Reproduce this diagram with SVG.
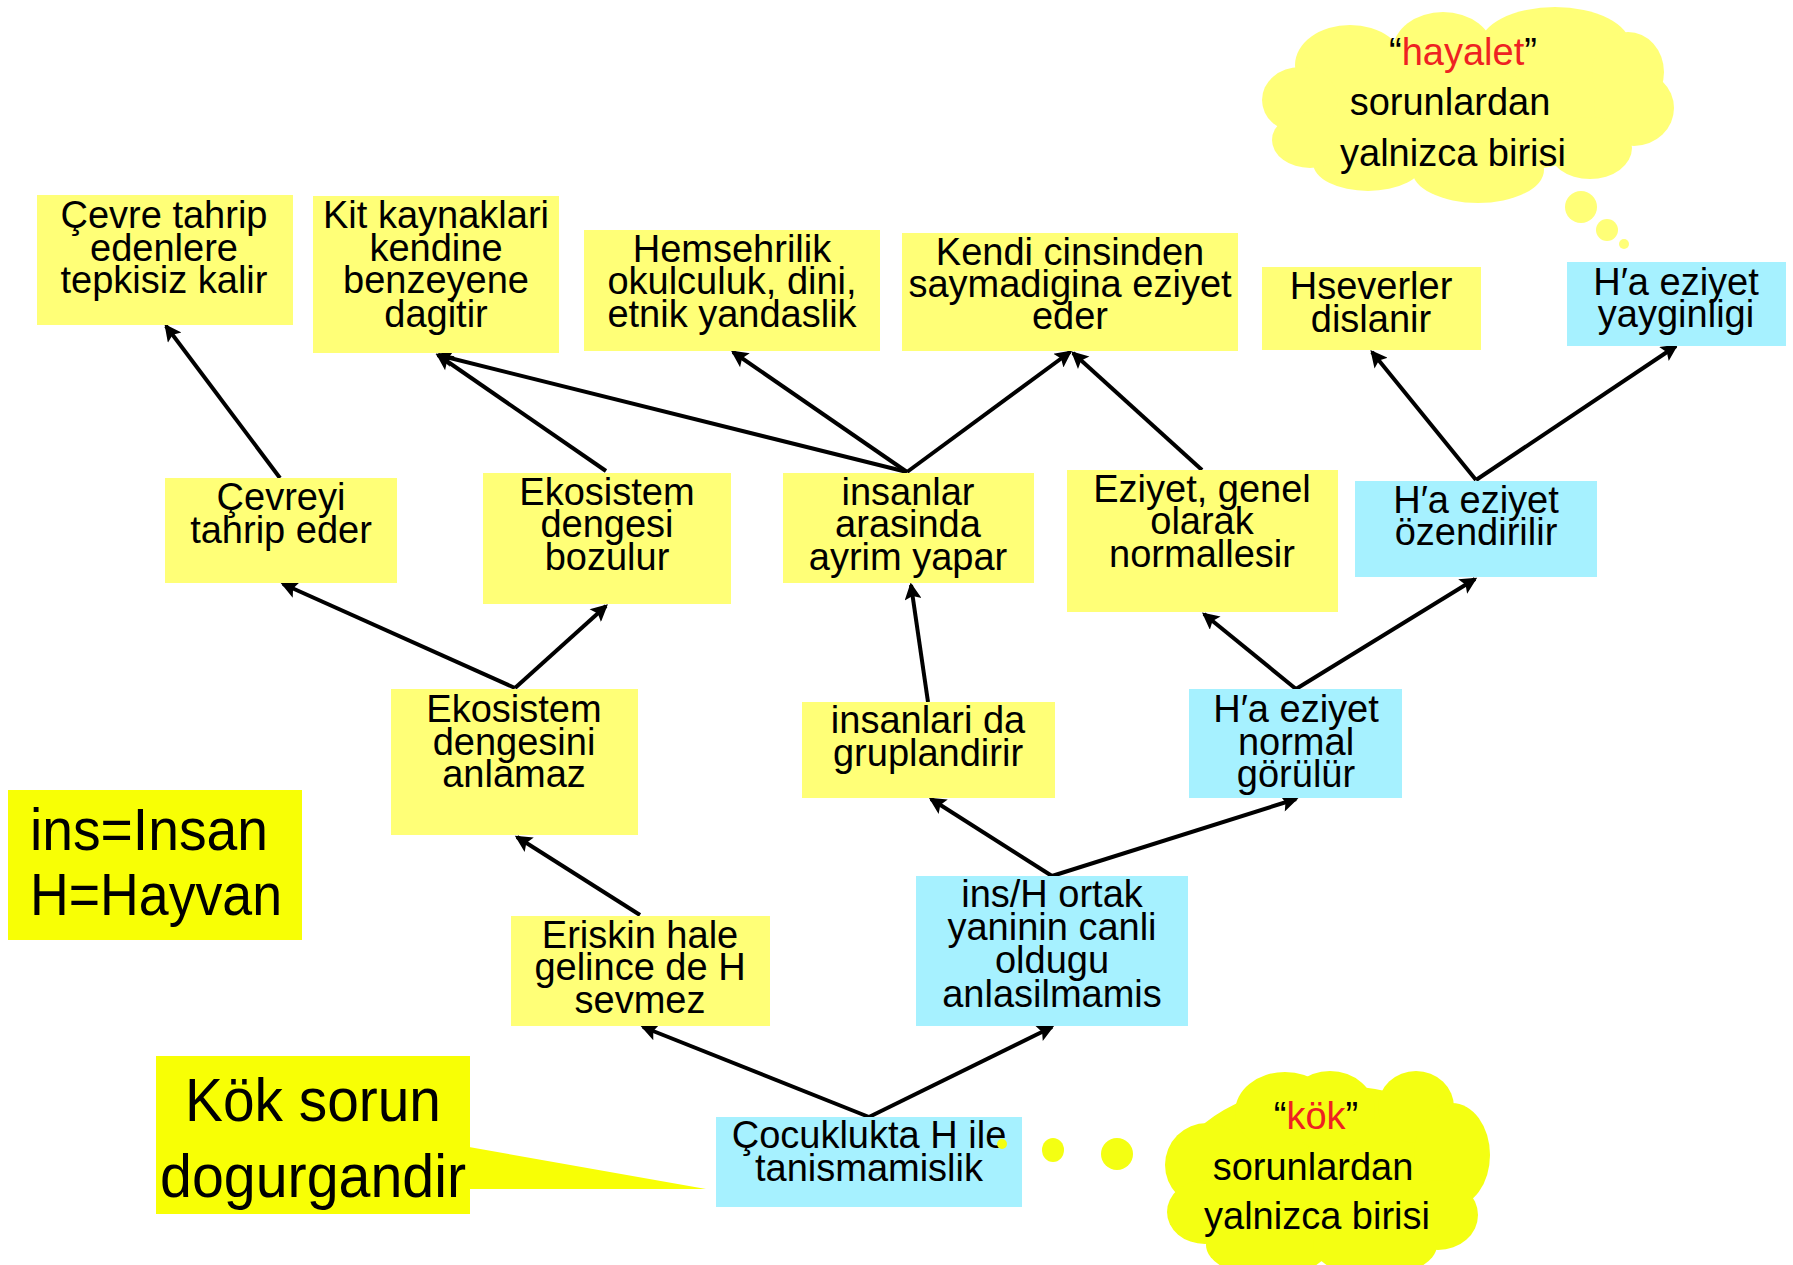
<svg xmlns="http://www.w3.org/2000/svg" width="1793" height="1265" viewBox="0 0 1793 1265">
  <style>
    .y { fill: #FFFF77; }
    .c { fill: #A6F1FF; }
    .hy { fill: #F8FF05; }
    .t { font-family: "Liberation Sans", Arial, sans-serif; font-size: 38px; text-anchor: middle; fill: #000; }
    .big { font-family: "Liberation Sans", Arial, sans-serif; fill: #000; }
    .red { fill: #EE2222; }
    .edge { stroke: #000; stroke-width: 4; fill: none; marker-end: url(#arr); }
  </style>
  <defs>
    <marker id="arr" viewBox="0 0 10 10" refX="8.5" refY="5" markerUnits="userSpaceOnUse" markerWidth="21" markerHeight="17" orient="auto">
      <path d="M0,0 L10,5 L0,10 L2,5 z" fill="#000"/>
    </marker>
  </defs>
  <rect width="1793" height="1265" fill="#fff"/>

  <!-- thought cloud, top right -->
  <g id="cloud-hayalet">
    <g fill="#FFFF77">
      <ellipse cx="1465" cy="105" rx="180" ry="70"/>
      <ellipse cx="1350" cy="65" rx="55" ry="40"/>
      <ellipse cx="1443" cy="50" rx="50" ry="38"/>
      <ellipse cx="1555" cy="45" rx="75" ry="38"/>
      <ellipse cx="1628" cy="72" rx="36" ry="40"/>
      <ellipse cx="1634" cy="108" rx="40" ry="38"/>
      <ellipse cx="1590" cy="148" rx="42" ry="31"/>
      <ellipse cx="1478" cy="170" rx="66" ry="33"/>
      <ellipse cx="1368" cy="163" rx="55" ry="28"/>
      <ellipse cx="1300" cy="100" rx="38" ry="33"/>
      <ellipse cx="1310" cy="140" rx="38" ry="28"/>
      <circle cx="1581" cy="207" r="16"/>
      <circle cx="1607" cy="230" r="11"/>
      <circle cx="1624" cy="244" r="5"/>
    </g>
    <text class="t" x="1463" y="65">“<tspan class="red">hayalet</tspan>”</text>
    <text class="t" x="1450" y="115">sorunlardan</text>
    <text class="t" x="1453" y="166">yalnizca birisi</text>
  </g>

  <!-- connectors -->
  <g id="connectors">
    <line class="edge" x1="280" y1="478" x2="166" y2="326"/>
    <line class="edge" x1="515" y1="688" x2="283" y2="584"/>
    <line class="edge" x1="515" y1="688" x2="606" y2="606"/>
    <line class="edge" x1="606" y1="471" x2="438" y2="355"/>
    <line class="edge" x1="907" y1="472" x2="438" y2="355"/>
    <line class="edge" x1="907" y1="472" x2="733" y2="352"/>
    <line class="edge" x1="907" y1="472" x2="1070" y2="352"/>
    <line class="edge" x1="1202" y1="470" x2="1073" y2="353"/>
    <line class="edge" x1="928" y1="702" x2="911" y2="585"/>
    <line class="edge" x1="1052" y1="876" x2="931" y2="799"/>
    <line class="edge" x1="1052" y1="876" x2="1296" y2="799"/>
    <line class="edge" x1="1296" y1="689" x2="1204" y2="614"/>
    <line class="edge" x1="1296" y1="689" x2="1475" y2="579"/>
    <line class="edge" x1="1476" y1="480" x2="1372" y2="352"/>
    <line class="edge" x1="1476" y1="480" x2="1676" y2="346"/>
    <line class="edge" x1="869" y1="1117" x2="643" y2="1027"/>
    <line class="edge" x1="869" y1="1117" x2="1052" y2="1027"/>
    <line class="edge" x1="640" y1="915" x2="517" y2="837"/>
  </g>

  <g id="n-cevre-tepkisiz">
    <rect class="y" x="37" y="195" width="256" height="130"/>
    <text class="t" x="164" y="228">Çevre tahrip</text>
    <text class="t" x="164" y="261">edenlere</text>
    <text class="t" x="164" y="293">tepkisiz kalir</text>
  </g>
  <g id="n-kit-kaynak">
    <rect class="y" x="313" y="196" width="246" height="157"/>
    <text class="t" x="436" y="228">Kit kaynaklari</text>
    <text class="t" x="436" y="261">kendine</text>
    <text class="t" x="436" y="293">benzeyene</text>
    <text class="t" x="436" y="327">dagitir</text>
  </g>
  <g id="n-hemsehrilik">
    <rect class="y" x="584" y="230" width="296" height="121"/>
    <text class="t" x="732" y="262">Hemsehrilik</text>
    <text class="t" x="732" y="294">okulculuk, dini,</text>
    <text class="t" x="732" y="327">etnik yandaslik</text>
  </g>
  <g id="n-kendi-cinsinden">
    <rect class="y" x="902" y="233" width="336" height="118"/>
    <text class="t" x="1070" y="265">Kendi cinsinden</text>
    <text class="t" x="1070" y="297">saymadigina eziyet</text>
    <text class="t" x="1070" y="329">eder</text>
  </g>
  <g id="n-hseverler">
    <rect class="y" x="1262" y="267" width="219" height="83"/>
    <text class="t" x="1371" y="299">Hseverler</text>
    <text class="t" x="1371" y="332">dislanir</text>
  </g>
  <g id="n-yayginligi">
    <rect class="c" x="1567" y="262" width="219" height="84"/>
    <text class="t" x="1676" y="295">H′a eziyet</text>
    <text class="t" x="1676" y="327">yayginligi</text>
  </g>
  <g id="n-cevreyi">
    <rect class="y" x="165" y="478" width="232" height="105"/>
    <text class="t" x="281" y="510">Çevreyi</text>
    <text class="t" x="281" y="543">tahrip eder</text>
  </g>
  <g id="n-ekosistem-bozulur">
    <rect class="y" x="483" y="473" width="248" height="131"/>
    <text class="t" x="607" y="505">Ekosistem</text>
    <text class="t" x="607" y="537">dengesi</text>
    <text class="t" x="607" y="570">bozulur</text>
  </g>
  <g id="n-ayrim">
    <rect class="y" x="783" y="473" width="251" height="110"/>
    <text class="t" x="908" y="505">insanlar</text>
    <text class="t" x="908" y="537">arasinda</text>
    <text class="t" x="908" y="570">ayrim yapar</text>
  </g>
  <g id="n-normallesir">
    <rect class="y" x="1067" y="470" width="271" height="142"/>
    <text class="t" x="1202" y="502">Eziyet, genel</text>
    <text class="t" x="1202" y="534">olarak</text>
    <text class="t" x="1202" y="567">normallesir</text>
  </g>
  <g id="n-ozendirilir">
    <rect class="c" x="1355" y="481" width="242" height="96"/>
    <text class="t" x="1476" y="513">H′a eziyet</text>
    <text class="t" x="1476" y="545">özendirilir</text>
  </g>
  <g id="n-ekosistem-anlamaz">
    <rect class="y" x="391" y="689" width="247" height="146"/>
    <text class="t" x="514" y="722">Ekosistem</text>
    <text class="t" x="514" y="755">dengesini</text>
    <text class="t" x="514" y="787">anlamaz</text>
  </g>
  <g id="n-gruplandirir">
    <rect class="y" x="802" y="702" width="253" height="96"/>
    <text class="t" x="928" y="733">insanlari da</text>
    <text class="t" x="928" y="766">gruplandirir</text>
  </g>
  <g id="n-normal-gorulur">
    <rect class="c" x="1189" y="689" width="213" height="109"/>
    <text class="t" x="1296" y="722">H′a eziyet</text>
    <text class="t" x="1296" y="755">normal</text>
    <text class="t" x="1296" y="787">görülür</text>
  </g>
  <g id="n-ortak-yan">
    <rect class="c" x="916" y="876" width="272" height="150"/>
    <text class="t" x="1052" y="907">ins/H ortak</text>
    <text class="t" x="1052" y="940">yaninin canli</text>
    <text class="t" x="1052" y="973">oldugu</text>
    <text class="t" x="1052" y="1007">anlasilmamis</text>
  </g>
  <g id="n-eriskin">
    <rect class="y" x="511" y="916" width="259" height="110"/>
    <text class="t" x="640" y="948">Eriskin hale</text>
    <text class="t" x="640" y="980">gelince de H</text>
    <text class="t" x="640" y="1013">sevmez</text>
  </g>
  <g id="n-cocuklukta">
    <rect class="c" x="716" y="1117" width="306" height="90"/>
    <text class="t" x="869" y="1148">Çocuklukta H ile</text>
    <text class="t" x="869" y="1181">tanismamislik</text>
  </g>

  <!-- legend -->
  <g id="legend">
    <rect class="hy" x="8" y="790" width="294" height="150"/>
    <text class="big" x="30" y="850" font-size="60" textLength="238" lengthAdjust="spacingAndGlyphs">ins=Insan</text>
    <text class="big" x="30" y="915" font-size="60" textLength="252" lengthAdjust="spacingAndGlyphs">H=Hayvan</text>
  </g>

  <!-- callout pointing at the root node -->
  <g id="callout-kok-sorun">
    <rect class="hy" x="156" y="1056" width="314" height="158"/>
    <polygon class="hy" points="469,1147 706,1189 469,1189"/>
    <text class="big" x="185" y="1121" font-size="62" textLength="256" lengthAdjust="spacingAndGlyphs">Kök sorun</text>
    <text class="big" x="160" y="1197" font-size="62" textLength="306" lengthAdjust="spacingAndGlyphs">dogurgandir</text>
  </g>

  <!-- thought cloud, bottom right -->
  <g id="cloud-kok">
    <g fill="#F4FF12">
      <circle cx="1002" cy="1144" r="5"/>
      <ellipse cx="1053" cy="1150" rx="11" ry="12"/>
      <ellipse cx="1117" cy="1154" rx="16" ry="16"/>
      <ellipse cx="1330" cy="1170" rx="150" ry="85"/>
      <ellipse cx="1285" cy="1112" rx="50" ry="40"/>
      <ellipse cx="1330" cy="1111" rx="45" ry="40"/>
      <ellipse cx="1416" cy="1107" rx="38" ry="36"/>
      <ellipse cx="1207" cy="1165" rx="42" ry="42"/>
      <ellipse cx="1205" cy="1212" rx="38" ry="32"/>
      <ellipse cx="1452" cy="1155" rx="38" ry="52"/>
      <ellipse cx="1438" cy="1215" rx="40" ry="35"/>
      <ellipse cx="1268" cy="1245" rx="62" ry="32"/>
      <ellipse cx="1375" cy="1245" rx="62" ry="32"/>
    </g>
    <text class="t" x="1316" y="1129">“<tspan class="red">kök</tspan>”</text>
    <text class="t" x="1313" y="1180">sorunlardan</text>
    <text class="t" x="1317" y="1229">yalnizca birisi</text>
  </g>
</svg>
